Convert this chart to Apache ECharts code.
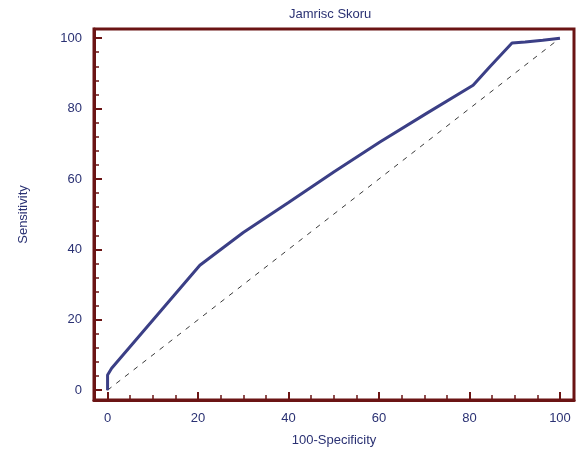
<!DOCTYPE html>
<html>
<head>
<meta charset="utf-8">
<script src="https://cdn.jsdelivr.net/npm/echarts@6/dist/echarts.min.js"></script>
<style>
  html, body { margin: 0; padding: 0; background: #fff; }
  #chart { width: 587px; height: 457px; }
</style>
</head>
<body>
<div id="chart"></div>
<script>
// ROC curve
var specComp = [0, 0, 0.9, 20.4, 30, 40, 50, 60.2, 70.6, 80.8, 84.5, 89.4, 92.3, 96.2, 100];
var sens     = [0, 4.3, 6.2, 35.5, 44.8, 53.3, 62, 70.5, 78.7, 86.6, 91.9, 98.6, 98.9, 99.4, 100];
var refLine  = [[0, 0], [100, 100]];

var majorTicks = [0, 20, 40, 60, 80, 100];
var xMinor = [5, 10, 15, 25, 30, 35, 45, 50, 55, 65, 70, 75, 85, 90, 95];
var yMinor = [4, 8, 12, 16, 24, 28, 32, 36, 44, 48, 52, 56, 64, 68, 72, 76, 84, 88, 92, 96];

var frame = '#6b1414';
var ink = '#2a3173';
var font = 'Liberation Sans, Arial, sans-serif';

var curve = specComp.map(function (x, i) { return [x, sens[i]]; });

var chart = echarts.init(document.getElementById('chart'));

function axisPair(dim, minorVals, range, name) {
  var main = {
    type: 'value',
    min: range[0],
    max: range[1],
    position: dim === 'x' ? 'bottom' : 'left',
    name: name,
    nameLocation: 'middle',
    nameGap: dim === 'x' ? 34 : 64,
    nameTextStyle: { color: ink, fontFamily: font, fontSize: 13 },
    axisLine: { show: true, onZero: false, lineStyle: { color: frame, width: 3 } },
    axisTick: {
      show: true, inside: true, length: 8,
      customValues: majorTicks,
      lineStyle: { color: frame, width: 2 }
    },
    axisLabel: {
      customValues: majorTicks,
      color: ink, fontFamily: font, fontSize: 13,
      margin: 12
    },
    splitLine: { show: false }
  };
  var minor = {
    type: 'value',
    min: range[0],
    max: range[1],
    position: dim === 'x' ? 'bottom' : 'left',
    offset: 0,
    axisLine: { show: false, onZero: false },
    axisTick: {
      show: true, inside: true, length: 5,
      customValues: minorVals,
      lineStyle: { color: frame, width: 1.5 }
    },
    axisLabel: { show: false },
    splitLine: { show: false }
  };
  return [main, minor];
}

chart.setOption({
  backgroundColor: '#ffffff',
  animation: false,
  title: {
    text: 'Jamrisc Skoru',
    left: 284,
    top: 3,
    textStyle: { color: ink, fontFamily: font, fontSize: 13, fontWeight: 'normal' }
  },
  grid: {
    left: 94, right: 13, top: 29, bottom: 57,
    show: true,
    borderColor: frame,
    borderWidth: 3,
    backgroundColor: '#ffffff'
  },
  xAxis: axisPair('x', xMinor, [-3, 103.1], '100-Specificity'),
  yAxis: axisPair('y', yMinor, [-2.8, 102.6], 'Sensitivity'),
  series: [
    {
      type: 'line',
      data: refLine,
      symbol: 'none',
      lineStyle: { color: '#3a3a3a', width: 1, type: [5, 6] },
      z: 2
    },
    {
      type: 'line',
      data: curve,
      symbol: 'none',
      smooth: false,
      lineStyle: { color: '#3b3f86', width: 3 },
      z: 3
    }
  ]
});
</script>
</body>
</html>
